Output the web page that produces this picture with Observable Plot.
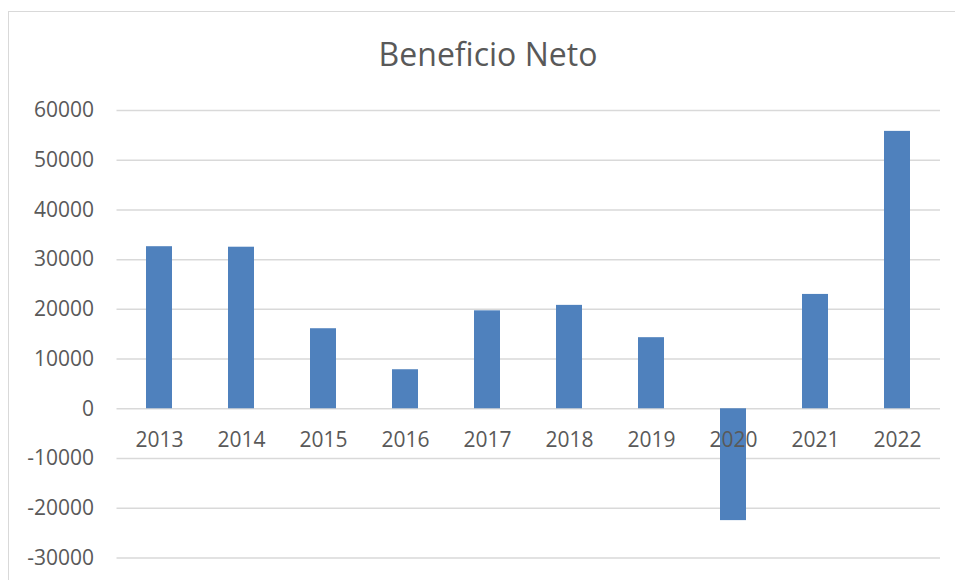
<!DOCTYPE html>
<html>
<head>
<meta charset="utf-8">
<script src="https://cdn.jsdelivr.net/npm/d3@7"></script>
<script src="https://cdn.jsdelivr.net/npm/@observablehq/plot@0.6"></script>
<style>
  html, body { margin: 0; padding: 0; background: #fff; overflow: hidden; width: 955px; height: 580px; }
  #frame { position: absolute; left: 8px; top: 11px; width: 1000px; height: 640px; border: 1.5px solid #d9d9d9; box-sizing: border-box; }
  #title { position: absolute; left: 0; top: 0; width: 955px; height: 95px; box-sizing: border-box; padding-top: 32px; padding-left: 21px; text-align: center; font-family: "Open Sans", sans-serif; font-size: 32px; color: #595959; line-height: normal; }
  #chart { position: absolute; left: 0; top: 95px; }
</style>
</head>
<body>
<div id="frame"></div>
<div id="title">Beneficio Neto</div>
<div id="chart"></div>
<script>
const years = ["2013", "2014", "2015", "2016", "2017", "2018", "2019", "2020", "2021", "2022"];
const values = [32600, 32500, 16100, 7850, 19700, 20800, 14300, -22500, 23000, 55800];
const yTicks = [-30000, -20000, -10000, 0, 10000, 20000, 30000, 40000, 50000, 60000];

const data = years.map((year, i) => ({year, value: values[i]}));

const chart = Plot.plot({
  width: 955,
  height: 485,
  marginTop: 15,
  marginBottom: 22.6,
  marginLeft: 116.5,
  marginRight: 15,
  style: {fontFamily: "'Open Sans', sans-serif", fontSize: "21px", color: "#595959", background: "transparent"},
  x: {domain: years, paddingInner: 0.688, paddingOuter: 0.344, axis: null},
  y: {domain: [-30000, 60000], axis: null},
  marks: [
    Plot.ruleY(yTicks, {stroke: "#d9d9d9", strokeWidth: 1.5}),
    Plot.axisY({ticks: yTicks, tickSize: 0, tickPadding: 23, tickFormat: d => String(d), fontSize: 21, label: null}),
    Plot.barY(data, {x: "year", y: "value", fill: "#4f81bd"}),
    Plot.text(data, {x: "year", y: () => 0, text: "year", dy: 31, fill: "#595959", fontSize: 21})
  ]
});
document.getElementById("chart").appendChild(chart);
</script>
</body>
</html>
